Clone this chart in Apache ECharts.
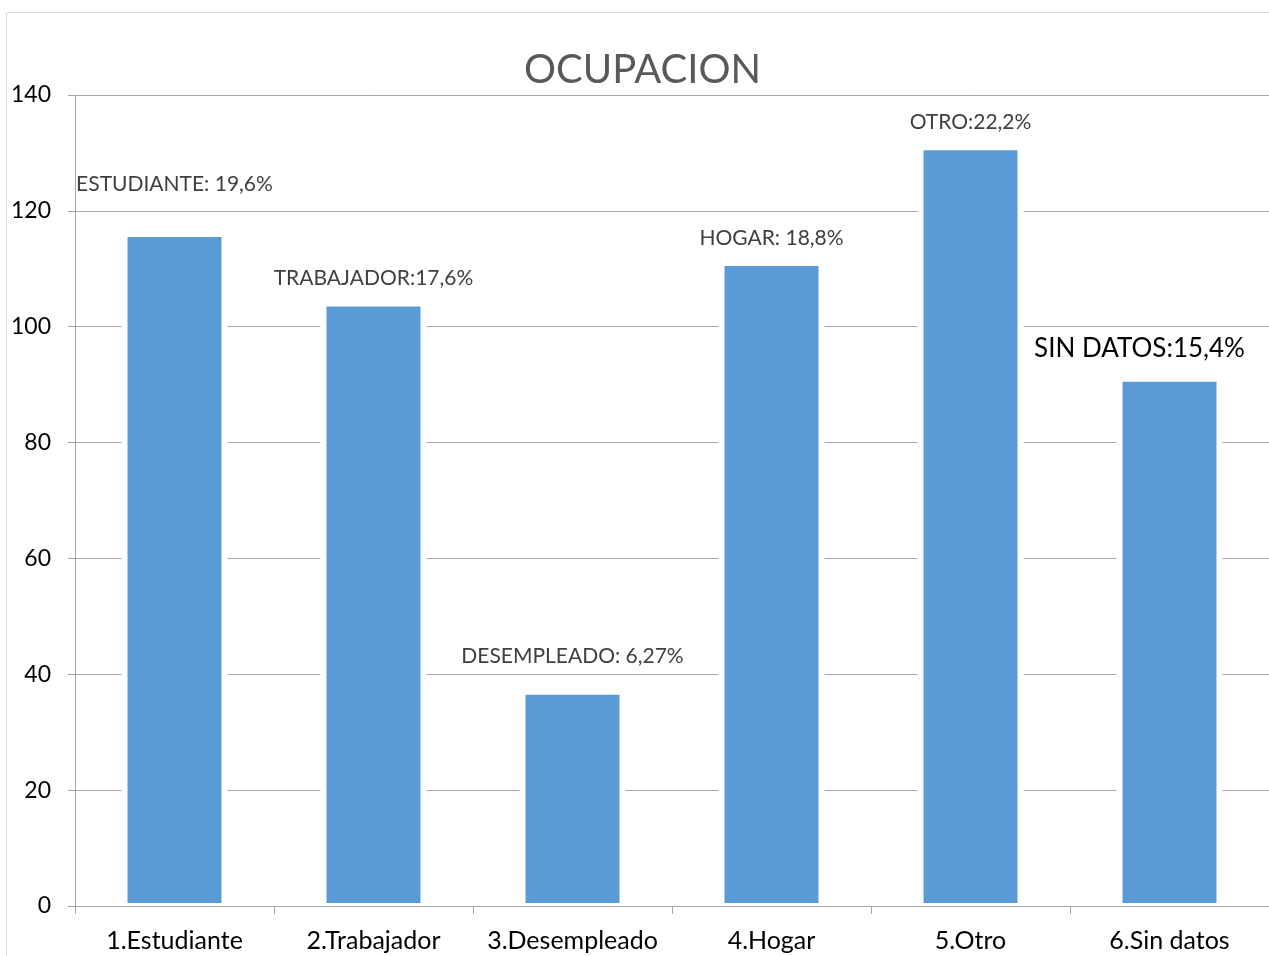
<!DOCTYPE html>
<html>
<head>
<meta charset="utf-8">
<script src="https://cdn.jsdelivr.net/npm/echarts@6/dist/echarts.min.js"></script>
<style>html,body{margin:0;padding:0;background:#fff;}#c{width:1269px;height:956px;}</style>
</head>
<body>
<div id="c"></div>
<script>
var categories = ['1.Estudiante', '2.Trabajador', '3.Desempleado', '4.Hogar', '5.Otro', '6.Sin datos'];
var values = [116, 104, 37, 111, 131, 91];
var labelTexts = ['ESTUDIANTE: 19,6%', 'TRABAJADOR:17,6%', 'DESEMPLEADO: 6,27%', 'HOGAR: 18,8%', 'OTRO:22,2%', 'SIN DATOS:15,4%'];
var yTicks = [0, 20, 40, 60, 80, 100, 120, 140];

// layout of the manually placed labels (style only)
var labelLayout = [
  {offset: [0, -40]},
  {offset: [0, -15]},
  {offset: [0, -25]},
  {offset: [0, -15]},
  {offset: [0, -15]},
  {offset: [-30, -17], fontSize: 26, lineHeight: 26, color: '#000'}
];

var FONT = 'Lato';
var chart = echarts.init(document.getElementById('c'), null, {renderer: 'canvas'});
var seriesData = values.map(function (v, i) {
  var l = labelLayout[i];
  return {
    value: v,
    label: {
      formatter: labelTexts[i],
      offset: l.offset,
      fontSize: l.fontSize || 21,
      lineHeight: l.lineHeight || 20,
      color: l.color || '#404040'
    }
  };
});
chart.setOption({
  backgroundColor: '#fff',
  animation: false,
  title: {
    text: 'OCUPACION',
    left: 519,
    top: 45,
    textStyle: {fontFamily: FONT, fontSize: 40, fontWeight: 'normal', color: '#595959'}
  },
  graphic: [{
    type: 'rect',
    shape: {x: 6.5, y: 12.5, width: 1300, height: 1000},
    style: {fill: 'none', stroke: '#d9d9d9', lineWidth: 1},
    silent: true, z: -10
  }],
  grid: {left: 75, right: 0, top: 95, bottom: 50, containLabel: false},
  xAxis: [{
    type: 'category',
    data: categories,
    z: 5,
    axisLine: {show: true, lineStyle: {color: '#a6a6a6', width: 1}},
    axisTick: {show: true, length: 8, alignWithLabel: false, lineStyle: {color: '#a6a6a6'}},
    axisLabel: {fontFamily: FONT, fontSize: 25, color: '#000', margin: 22, interval: 0}
  }, {
    type: 'category',
    data: categories,
    position: 'bottom',
    show: false
  }],
  yAxis: {
    type: 'value',
    min: yTicks[0],
    max: yTicks[yTicks.length - 1],
    interval: 20,
    axisLine: {show: true, lineStyle: {color: '#a6a6a6', width: 1}},
    axisTick: {show: true, length: 7, lineStyle: {color: '#a6a6a6'}},
    axisLabel: {fontFamily: FONT, fontSize: 23, color: '#000', margin: 24},
    splitLine: {show: true, lineStyle: {color: '#a6a6a6', width: 1}}
  },
  series: [{
    type: 'bar',
    xAxisIndex: 1,
    data: values,
    barWidth: 106,
    z: 1,
    silent: true,
    itemStyle: {color: '#fff'},
    label: {show: false}
  }, {
    type: 'bar',
    xAxisIndex: 0,
    data: seriesData,
    barWidth: 100,
    z: 2,
    itemStyle: {color: '#5b9bd5', borderColor: '#fff', borderWidth: 3},
    label: {show: true, position: 'top', distance: 0, fontFamily: FONT}
  }]
});
</script>
</body>
</html>
